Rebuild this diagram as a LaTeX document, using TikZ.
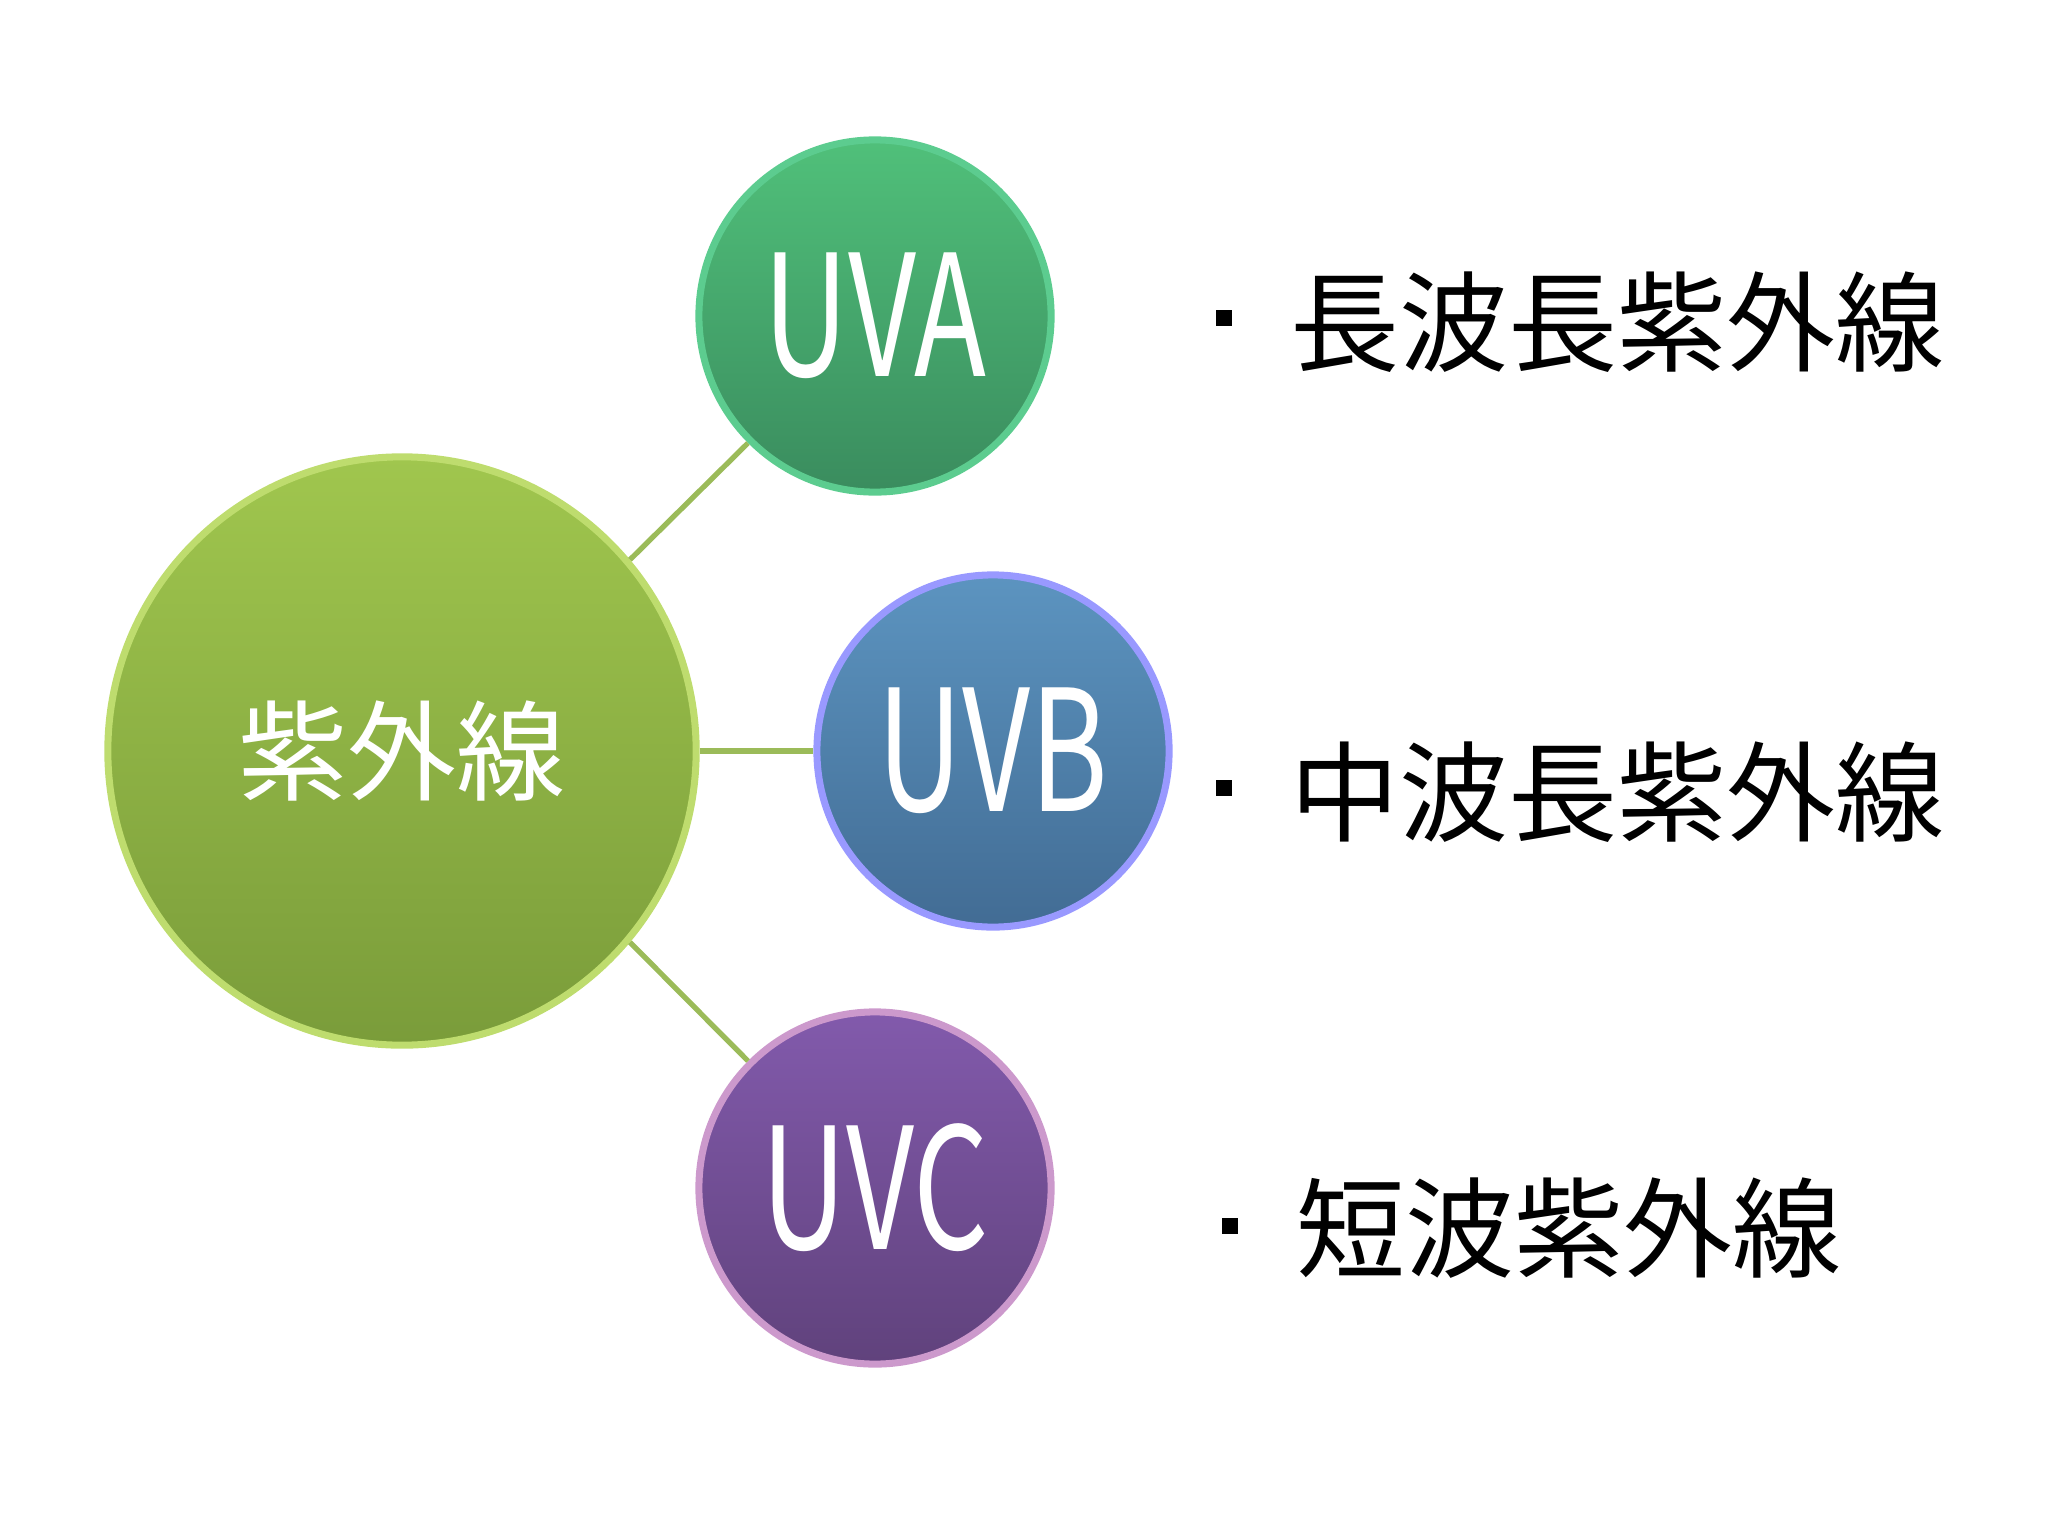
\documentclass[tikz,border=0pt]{standalone}
\usepackage{fontspec}
\newfontfamily\cjk{Noto Sans CJK JP}
\begin{document}
\begin{tikzpicture}[x=0.01cm,y=-0.01cm,
  ball/.style={circle,draw=white!60!#1,line width=2pt,minimum size=3.52cm,inner sep=0},
  lbl/.style={text=white,font=\cjk\fontsize{48}{52}\selectfont,xscale=0.7},
  item/.style={anchor=west,font=\cjk\fontsize{31}{36}\selectfont},
  link/.style={draw={rgb,255:red,155;green,187;blue,89},line width=1.5pt}]
\useasboundingbox (0,0) rectangle (2048,1536);
\node[circle,minimum size=5.88cm,inner sep=0,top color={rgb,255:red,160;green,198;blue,78},bottom color={rgb,255:red,122;green,156;blue,58},draw={rgb,255:red,190;green,220;blue,110},line width=2pt] (m) at (402,751) {};
\node[text=white,font=\cjk\fontsize{31}{36}\selectfont] at (m) {紫外線};
\node[ball=green!60!teal,top color={rgb,255:red,80;green,192;blue,122},bottom color={rgb,255:red,58;green,140;blue,94}] (a) at (875,316) {};
\node[ball=blue,top color={rgb,255:red,92;green,148;blue,192},bottom color={rgb,255:red,66;green,108;blue,148}] (b) at (993,751) {};
\node[ball=violet,top color={rgb,255:red,130;green,90;blue,172},bottom color={rgb,255:red,96;green,66;blue,124}] (c) at (875,1188) {};
\node[lbl] at (a) {UVA};
\node[lbl] at (b) {UVB};
\node[lbl] at (c) {UVC};
\path[link] (m.40) -- (a.225);
\path[link] (m.east) -- (b.west);
\path[link] (m.-40) -- (c.135);
\fill (1216,310) rectangle +(16,16);
\fill (1216,780) rectangle +(16,16);
\fill (1222,1218) rectangle +(16,16);
\node[item] (t1) at (1278,322) {長波長紫外線};
\node[item] (t2) at (1278,792) {中波長紫外線};
\node[item] (t3) at (1284,1228) {短波紫外線};
\end{tikzpicture}
\end{document}
